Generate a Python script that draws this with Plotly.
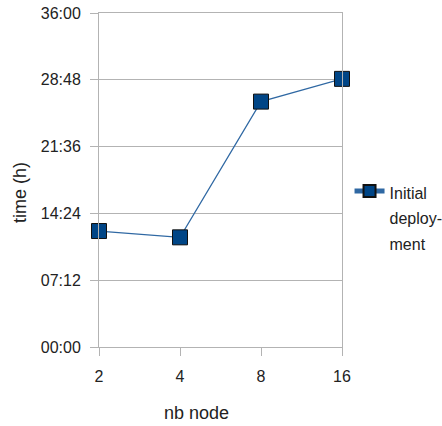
import plotly.graph_objects as go

nodes = ["2", "4", "8", "16"]
hours = [12.5, 11.82, 26.45, 28.9]
name_lines = ["Initial", "deploy-", "ment"]
ytick_vals = [0, 7.2, 14.4, 21.6, 28.8, 36]
ytick_text = ["00:00", "07:12", "14:24", "21:36", "28:48", "36:00"]

FONT = "Liberation Sans, Arial, sans-serif"
TXT = "#222222"
series_name = "<br>".join(
    "<span style='font-size:16px'>%s</span>" % s for s in name_lines)

fig = go.Figure()
fig.add_trace(go.Scatter(
    x=nodes, y=hours, mode="lines+markers", name=series_name,
    line=dict(color="#2f68a3", width=1.2), cliponaxis=False,
    marker=dict(symbol="square", size=15, color="#004586",
                line=dict(color="#111111", width=1)),
))

fig.update_layout(
    width=442, height=426,
    margin=dict(l=99, r=100, t=13, b=79, autoexpand=False),
    plot_bgcolor="white", paper_bgcolor="white",
    font=dict(family=FONT, size=16, color=TXT),
    showlegend=True,
    legend=dict(x=1.031, xanchor="left", y=0.525, yanchor="top",
                itemwidth=30, valign="top", itemsizing="constant",
                font=dict(size=19.7, color=TXT), tracegroupgap=0),
    annotations=[
        dict(text="time (h)", xref="paper", yref="paper", x=-0.325, y=0.461,
             textangle=-90, showarrow=False, font=dict(size=18, color=TXT),
             xanchor="center", yanchor="middle"),
        dict(text="nb node", xref="paper", yref="paper", x=0.403, y=-0.198,
             showarrow=False, font=dict(size=18, color=TXT),
             xanchor="center", yanchor="middle"),
    ],
)
fig.update_xaxes(
    type="category", range=[0, 3], showgrid=False, automargin=False,
    showline=True, linecolor="#b3b3b3", linewidth=1, mirror=True,
    ticks="outside", ticklen=8, tickcolor="#b3b3b3", ticklabelstandoff=7,
    ticklabeloverflow="allow", zeroline=False,
)
fig.update_yaxes(
    range=[0, 36], tickvals=ytick_vals, ticktext=ytick_text, automargin=False,
    showgrid=True, gridcolor="#b3b3b3", gridwidth=1,
    showline=True, linecolor="#b3b3b3", linewidth=1, mirror=True,
    ticks="outside", ticklen=8, tickcolor="#b3b3b3", ticklabelstandoff=6,
    ticklabeloverflow="allow", zeroline=False,
)
fig.write_html("out.html", config={"displayModeBar": False},
               post_script="document.body.style.margin='0';document.body.style.overflow='hidden';")
